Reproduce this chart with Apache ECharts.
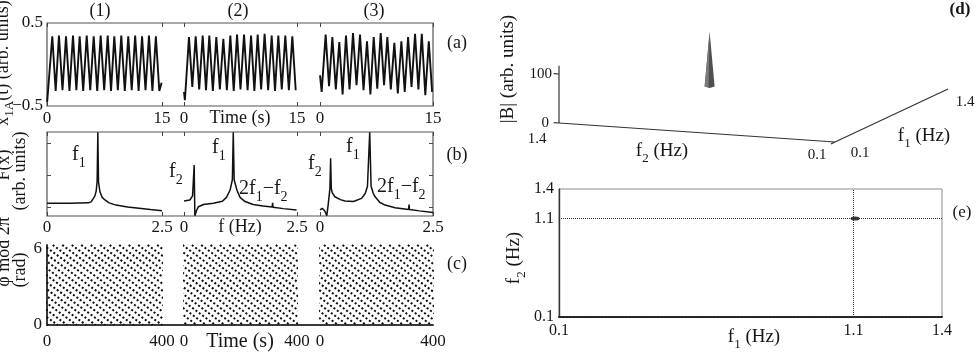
<!DOCTYPE html>
<html>
<head>
<meta charset="utf-8">
<title>Coupled oscillators figure</title>
<script src="https://cdn.jsdelivr.net/npm/echarts@6.0.0/dist/echarts.min.js"></script>
<style>
html,body{margin:0;padding:0;background:#ffffff;}
#chart{width:978px;height:356px;}
</style>
</head>
<body>
<div id="chart"></div>
<script>
// ================= DATA =================
const panelTitles = ['(1)', '(2)', '(3)'];
const panelLetters = ['(a)', '(b)', '(c)', '(d)', '(e)'];

// (a) x1A(t): time (s) / value of start points, peaks and troughs
const waveStart1 = [[0.02, -0.45]];
const wavePeakT1 = [0.69,1.56,2.48,3.39,4.26,5.18,6.09,7.0,7.92,8.78,9.69,10.6,11.5,12.4,13.3,14.2];
const wavePeakV1 = [0.34,0.35,0.34,0.35,0.34,0.35,0.34,0.35,0.35,0.34,0.35,0.34,0.35,0.34,0.35,0.34];
const waveTroughT1 = [1.13,2.02,2.93,3.83,4.72,5.64,6.55,7.46,8.35,9.24,10.15,11.05,11.95,12.85,13.75,14.65];
const waveTroughV1 = [-0.32,-0.31,-0.32,-0.31,-0.32,-0.31,-0.32,-0.31,-0.32,-0.31,-0.32,-0.31,-0.32,-0.31,-0.32,-0.32];
const waveEnd1 = [[14.95, -0.22]];

const waveStart2 = [[0.0, -0.33], [0.12, -0.43]];
const wavePeakT2 = [0.66,1.55,2.48,3.36,4.29,5.22,6.15,7.04,7.97,8.9,9.78,10.7,11.64,12.52,13.45,14.38];
const wavePeakV2 = [0.33,0.34,0.35,0.35,0.33,0.31,0.35,0.36,0.36,0.35,0.36,0.37,0.35,0.35,0.35,0.34];
const waveTroughT2 = [1.1,2.02,2.92,3.83,4.76,5.69,6.6,7.5,8.44,9.34,10.24,11.17,12.08,12.98,13.92,14.83];
const waveTroughV2 = [-0.27,-0.3,-0.31,-0.32,-0.3,-0.31,-0.32,-0.3,-0.31,-0.32,-0.3,-0.31,-0.32,-0.3,-0.31,-0.31];
const waveEnd2 = [];

const waveStart3 = [[0.0, -0.13], [0.22, -0.33]];
const wavePeakT3 = [0.75,1.64,2.56,3.45,4.38,5.31,6.24,7.13,8.06,8.94,9.87,10.8,11.69,12.62,13.51,14.44];
const wavePeakV3 = [0.36,0.33,0.27,0.35,0.38,0.36,0.28,0.33,0.38,0.33,0.26,0.28,0.33,0.37,0.37,0.28];
const waveTroughT3 = [1.2,2.1,3.0,3.92,4.85,5.78,6.69,7.6,8.5,9.4,10.33,11.25,12.15,13.06,13.98,14.88];
const waveTroughV3 = [-0.26,-0.3,-0.36,-0.3,-0.25,-0.31,-0.36,-0.29,-0.25,-0.3,-0.35,-0.33,-0.27,-0.3,-0.37,-0.33];
const waveEnd3 = [];

const timeTicksA = [0, 15];
const ampTicksA = [-0.5, 0.5];

// (b) spectra F(x1A): [f (Hz), arb. units]
const specB1 = [[0,0.115],[0.5,0.115],[0.9,0.13],[0.96,0.16],[1.0,0.22],[1.04,0.34],[1.07,0.5],[1.09,0.8],[1.105,2.33],[1.12,0.78],[1.15,0.48],[1.2,0.3],[1.26,0.22],[1.35,0.13],[1.5,0.06],[1.75,0.0],[2.0,-0.04],[2.25,-0.08],[2.5,-0.115]];
const specB2 = [[0,0.19],[0.13,0.22],[0.19,0.35],[0.225,1.31],[0.24,-0.27],[0.28,-0.1],[0.32,0.01],[0.43,0.08],[0.65,0.115],[0.85,0.18],[0.94,0.3],[1.02,0.53],[1.07,0.85],[1.09,2.33],[1.11,0.85],[1.17,0.53],[1.24,0.3],[1.35,0.17],[1.53,0.08],[1.75,0.03],[1.95,0.0],[1.96,0.13],[1.97,-0.01],[2.2,-0.05],[2.49,-0.09]];
const specB3 = [[0,-0.09],[0.05,-0.04],[0.11,-0.13],[0.15,-0.27],[0.18,0.06],[0.22,0.58],[0.235,1.52],[0.25,0.58],[0.27,0.45],[0.33,0.32],[0.45,0.23],[0.55,0.19],[0.74,0.17],[0.92,0.27],[1.0,0.42],[1.05,0.65],[1.1,2.33],[1.13,0.65],[1.18,0.42],[1.22,0.32],[1.32,0.15],[1.44,0.06],[1.66,-0.02],[1.96,-0.08],[1.97,0.08],[1.98,-0.08],[2.2,-0.12],[2.5,-0.17]];
const freqTicksB = [0, 2.5];
const ampTicksB = [0, 1, 2];

// (c) phase mod 2pi: dotted stripes, start time (s) at phase 2pi of each stripe
const TWO_PI = 6.2832;
const stripeSpanC = [380, 380, 380];
const stripeStartC1 = [-376,-343,-310,-277,-244,-211,-178,-145,-112,-79,-46,-13,20,53,86,119,152,185,218,251,284,317,350,383];
const stripeStartC2 = [-368,-335,-302,-269,-236,-203,-170,-137,-104,-71,-38,-5,28,61,94,127,160,193,226,259,292,325,358,391];
const stripeStartC3 = [-382,-349,-316,-283,-250,-217,-184,-151,-118,-85,-52,-19,14,47,80,113,146,179,212,245,278,311,344,377];
const timeTicksC = [0, 400];
const phaseTicksC = [0, 6];

// (d) bispectrum |B|(f1, f2)
const dRangeF1 = [0.1, 1.4];
const dRangeF2 = [0.1, 1.4];
const dRangeB = [0, 117];
const dTicksB = [0, 100];
const dPeak = [1.1, 1.1, 112];   // f1, f2, |B|

// (e) contour
const eRange = [0.1, 1.4];
const eTicks = [0.1, 1.1, 1.4];
const eGuides = [1.1, 1.1];       // f1, f2 dotted guide lines
const eBlob = [[1.105, 1.1]];

// ================= CHART =================
const FONT = "'Liberation Serif','DejaVu Serif','Times New Roman',serif";
const INK = '#161616';
const chart = echarts.init(document.getElementById('chart'), null, {renderer: 'canvas', width: 978, height: 356});

const grids = [], xAxes = [], yAxes = [], series = [], graphics = [];

function addGrid(l, t, w, h, extra) {
  grids.push(Object.assign({left: l, top: t, width: w, height: h, containLabel: false,
    outerBoundsMode: 'none', show: false}, extra || {}));
  return grids.length - 1;
}
function axis(gi, min, max, o) {
  o = o || {};
  return {
    type: 'value', gridIndex: gi, min: min, max: max, position: o.position, inverse: !!o.inverse,
    axisLine: o.line ? {show: true, onZero: false, lineStyle: o.line} : {show: false, onZero: false},
    axisTick: o.ticks ? {show: true, inside: true, length: 4, customValues: o.ticks,
      lineStyle: {color: '#444', width: 1}} : {show: false},
    axisLabel: o.labels ? {show: true, customValues: o.labels, margin: o.margin || 5,
      fontSize: o.fontSize || 17, fontFamily: FONT, color: INK,
      formatter: o.fmt || function (v) { return String(v); }} : {show: false},
    splitLine: {show: false}
  };
}
function addX(a) { xAxes.push(a); return xAxes.length - 1; }
function addY(a) { yAxes.push(a); return yAxes.length - 1; }
const minusFmt = function (v) { return v < 0 ? '\u2212' + Math.abs(v) : String(v); };

function buildWave(start, pt, pv, tt, tv, end) {
  const pts = start.slice();
  pt.forEach(function (t, i) { pts.push([t, pv[i]]); });
  tt.forEach(function (t, i) { pts.push([t, tv[i]]); });
  end.forEach(function (p) { pts.push(p); });
  pts.sort(function (a, b) { return a[0] - b[0]; });
  return pts;
}
const waves = [
  buildWave(waveStart1, wavePeakT1, wavePeakV1, waveTroughT1, waveTroughV1, waveEnd1),
  buildWave(waveStart2, wavePeakT2, wavePeakV2, waveTroughT2, waveTroughV2, waveEnd2),
  buildWave(waveStart3, wavePeakT3, wavePeakV3, waveTroughT3, waveTroughV3, waveEnd3)
];
const spectra = [specB1, specB2, specB3];
const stripeStarts = [stripeStartC1, stripeStartC2, stripeStartC3];

const subCols = [[47, 115], [184, 113], [320, 113]];
const A_TOP = 23, A_H = 83, B_TOP = 132, B_H = 84, C_TOP = 245, C_H = 80;
const BMIN = -0.28, BMAX = 2.34;

// ---- frames ----
(function () {
  const ga = addGrid(47, A_TOP, 386, A_H, {show: true, borderColor: '#555', borderWidth: 1.2, backgroundColor: 'transparent'});
  addX(axis(ga, 0, 1));
  addY(axis(ga, -0.5, 0.5, {labels: ampTicksA, fmt: minusFmt, margin: 4}));
  const gb = addGrid(47, B_TOP, 386, B_H, {show: true, borderColor: '#555', borderWidth: 1.2, backgroundColor: 'transparent'});
  addX(axis(gb, 0, 1));
  addY(axis(gb, BMIN, BMAX, {position: 'left', ticks: ampTicksB}));
  addY(axis(gb, BMIN, BMAX, {position: 'right', ticks: ampTicksB}));
  const gc = addGrid(47, C_TOP, 386, C_H);
  addX(axis(gc, 0, 1, {position: 'bottom', line: {color: '#3a3a3a', width: 2}}));
  addY(axis(gc, 0, TWO_PI));
})();

// ---- panel (a) ----
subCols.forEach(function (c, i) {
  const g = addGrid(c[0], A_TOP, c[1], A_H);
  const xi = addX(axis(g, 0, 15, {position: 'bottom', ticks: timeTicksA, labels: timeTicksA, margin: 4}));
  addX(axis(g, 0, 15, {position: 'top', ticks: timeTicksA}));
  const yi = addY(axis(g, -0.5, 0.5));
  series.push({type: 'line', xAxisIndex: xi, yAxisIndex: yi, data: waves[i], showSymbol: false, symbol: 'none',
    lineStyle: {color: '#111', width: 1.9}, silent: true, clip: true, z: 3});
});

// ---- panel (b) ----
subCols.forEach(function (c, i) {
  const g = addGrid(c[0], B_TOP, c[1], B_H);
  const xi = addX(axis(g, 0, 2.5, {position: 'bottom', ticks: freqTicksB, labels: freqTicksB, margin: 3}));
  addX(axis(g, 0, 2.5, {position: 'top', ticks: freqTicksB}));
  const yi = addY(axis(g, BMIN, BMAX));
  series.push({type: 'line', xAxisIndex: xi, yAxisIndex: yi, data: spectra[i], showSymbol: false, symbol: 'none',
    lineStyle: {color: '#111', width: 1.5}, silent: true, clip: true, z: 3});
});

// ---- panel (c) ----
subCols.forEach(function (c, i) {
  const g = addGrid(c[0], C_TOP, c[1], C_H);
  const xi = addX(axis(g, 0, 400, {position: 'bottom', labels: timeTicksC, margin: 8}));
  const yi = addY(i === 0 ? axis(g, 0, TWO_PI, {line: {color: '#3a3a3a', width: 2}, labels: phaseTicksC, margin: 5})
                          : axis(g, 0, TWO_PI));
  const span = stripeSpanC[i];
  series.push({type: 'lines', coordinateSystem: 'cartesian2d', xAxisIndex: xi, yAxisIndex: yi,
    data: stripeStarts[i].map(function (t0) { return {coords: [[t0, TWO_PI], [t0 + span, 0]]}; }),
    lineStyle: {color: '#0d0d0d', width: 2.0, type: [2.0, 2.2], opacity: 1, curveness: 0},
    silent: true, clip: true, z: 3});
});

// ---- panel (d): oblique 3-D view, projected through a hidden cartesian ----
(function () {
  const g = addGrid(480, 0, 498, 180);
  const xi = addX(axis(g, 0, 498));
  const yi = addY(axis(g, 0, 180, {inverse: true}));
  series.push({
    type: 'custom', xAxisIndex: xi, yAxisIndex: yi, data: [0], silent: true, z: 4,
    renderItem: function (params, api) {
      const P = function (f1, f2, b) {
        const a = (dRangeF2[1] - f2) / (dRangeF2[1] - dRangeF2[0]);
        const c = (f1 - dRangeF1[0]) / (dRangeF1[1] - dRangeF1[0]);
        return api.coord([79 + 276 * a + 113 * c, 123 + 19 * a - 53 * c - 49 * b / 100]);
      };
      const ln = function (p, q, w) {
        return {type: 'line', shape: {x1: p[0], y1: p[1], x2: q[0], y2: q[1]},
          style: {stroke: '#333', lineWidth: w || 1.2}};
      };
      const o = P(dRangeF1[0], dRangeF2[1], 0);
      const kids = [
        ln(o, P(dRangeF1[0], dRangeF2[1], dRangeB[1])),
        ln(o, P(dRangeF1[0], dRangeF2[0], 0)),
        ln(P(dRangeF1[0], dRangeF2[0], 0), P(dRangeF1[1], dRangeF2[0], 0)),
        ln(P(dRangeF1[0], dRangeF2[0], 0), P(dRangeF1[0] - 0.045, dRangeF2[0], 0))
      ];
      dTicksB.forEach(function (b) {
        kids.push(ln(P(dRangeF1[0], dRangeF2[1], b), P(dRangeF1[0], dRangeF2[1] + 0.025, b)));
      });
      const apex = P(dPeak[0], dPeak[1], dPeak[2]);
      const base = P(dPeak[0], dPeak[1], 0);
      kids.push({type: 'polygon', shape: {points: [[base[0] - 5, base[1]], apex, [base[0] + 5, base[1]], [base[0], base[1] + 1.5]]},
        style: {fill: '#4f4f4f'}});
      kids.push({type: 'polygon', shape: {points: [[base[0] - 5, base[1]], apex, [base[0] - 1, base[1] + 1]]},
        style: {fill: '#7a7a7a'}});
      return {type: 'group', children: kids};
    }
  });
})();

// ---- panel (e) ----
(function () {
  const g = addGrid(559, 189, 383, 128, {show: true, borderColor: '#8a8a8a', borderWidth: 1, backgroundColor: 'transparent'});
  const fmt = function (v) { return v.toFixed(1); };
  const xi = addX(axis(g, eRange[0], eRange[1], {position: 'bottom', labels: eTicks, fmt: fmt, margin: 6, fontSize: 16,
    line: {color: '#222', width: 2, type: [2, 1.5]}}));
  const yi = addY(axis(g, eRange[0], eRange[1], {position: 'left', labels: eTicks, fmt: fmt, margin: 5, fontSize: 16,
    line: {color: '#333', width: 1.4}}));
  series.push({type: 'scatter', xAxisIndex: xi, yAxisIndex: yi, data: eBlob, symbol: 'circle', symbolSize: [9, 4],
    itemStyle: {color: '#111'}, silent: true, z: 5,
    markLine: {silent: true, symbol: ['none', 'none'], animation: false, label: {show: false},
      lineStyle: {type: 'dotted', color: '#333', width: 1},
      data: [{xAxis: eGuides[0]}, {yAxis: eGuides[1]}]}});
})();

// ================= TEXT =================
function G(x, y, style, extra) {
  return Object.assign({type: 'text', x: x, y: y, silent: true, z: 100,
    style: Object.assign({fill: INK, fontFamily: FONT, align: 'center', verticalAlign: 'middle'}, style)}, extra || {});
}
// main text + subscripts; with verticalAlign 'middle' the main text is centred on the anchor
function rich(parts, size) {
  const sub = Math.round(size * 0.7);
  const drop = Math.round(size * 0.8);
  return {
    text: parts.map(function (p) { return '{' + (p[1] ? 's' : 'n') + '|' + p[0] + '}'; }).join(''),
    rich: {
      n: {fontSize: size, lineHeight: size, fontFamily: FONT, fill: INK},
      s: {fontSize: sub, lineHeight: sub, padding: [drop, 0, 0, 0], fontFamily: FONT, fill: INK}
    }
  };
}
const ROT = Math.PI / 2;

[100, 238, 374].forEach(function (x, i) { graphics.push(G(x, 11, {text: panelTitles[i], fontSize: 18})); });
graphics.push(G(457, 43, {text: panelLetters[0], fontSize: 18}));
graphics.push(G(457, 155, {text: panelLetters[1], fontSize: 18}));
graphics.push(G(457, 264, {text: panelLetters[2], fontSize: 18}));
graphics.push(G(240, 118, {text: 'Time (s)', fontSize: 18}));
graphics.push(G(240, 227, {text: 'f (Hz)', fontSize: 18}));
graphics.push(G(240, 342, {text: 'Time (s)', fontSize: 20}));

// left axis titles (partly cut by the page edge)
graphics.push(G(3, 63, rich([['x', 0], ['1A', 1], ['(t) (arb. units)', 0]], 18), {rotation: ROT}));
graphics.push(G(4, 165, {text: 'F(x)', fontSize: 18}, {rotation: ROT}));
graphics.push(G(20, 171, {text: '(arb. units)', fontSize: 18}, {rotation: ROT}));
graphics.push(G(4, 252, {text: '\u03C6 mod 2\u03C0', fontSize: 18}, {rotation: ROT}));
graphics.push(G(20, 270, {text: '(rad)', fontSize: 18}, {rotation: ROT}));

// peak labels in (b)
function peakLabel(x, y, parts) {
  graphics.push(G(x, y, Object.assign({align: 'left'}, rich(parts, 20))));
}
peakLabel(72, 155, [['f', 0], ['1', 1]]);
peakLabel(169, 172, [['f', 0], ['2', 1]]);
peakLabel(212, 148, [['f', 0], ['1', 1]]);
peakLabel(239, 189, [['2f', 0], ['1', 1], ['\u2212f', 0], ['2', 1]]);
peakLabel(308, 164, [['f', 0], ['2', 1]]);
peakLabel(346, 147, [['f', 0], ['1', 1]]);
peakLabel(377, 187, [['2f', 0], ['1', 1], ['\u2212f', 0], ['2', 1]]);

// (d) labels
graphics.push(G(960, 10, {text: panelLetters[3], fontSize: 17, fontWeight: 'bold'}));
graphics.push(G(552, 74, {text: String(dTicksB[1]), fontSize: 15, align: 'right'}));
graphics.push(G(549, 123, {text: String(dTicksB[0]), fontSize: 15, align: 'right'}));
graphics.push(G(537, 139, {text: dRangeF2[1].toFixed(1), fontSize: 15}));
graphics.push(G(817, 155, {text: dRangeF2[0].toFixed(1), fontSize: 15}));
graphics.push(G(860, 153, {text: dRangeF1[0].toFixed(1), fontSize: 15}));
graphics.push(G(965, 102, {text: dRangeF1[1].toFixed(1), fontSize: 15}));
graphics.push(G(662, 151, rich([['f', 0], ['2', 1], [' (Hz)', 0]], 19)));
graphics.push(G(924, 136, rich([['f', 0], ['1', 1], [' (Hz)', 0]], 19)));
graphics.push(G(508, 69, {text: '|B| (arb. units)', fontSize: 19}, {rotation: ROT}));

// (e) labels
graphics.push(G(962, 213, {text: panelLetters[4], fontSize: 17}));
graphics.push(G(754, 337, rich([['f', 0], ['1', 1], [' (Hz)', 0]], 19)));
graphics.push(G(514, 258, rich([['f', 0], ['2', 1], [' (Hz)', 0]], 19), {rotation: ROT}));

chart.setOption({
  animation: false,
  backgroundColor: '#ffffff',
  textStyle: {fontFamily: FONT},
  grid: grids,
  xAxis: xAxes,
  yAxis: yAxes,
  series: series,
  graphic: {elements: graphics}
});
</script>
</body>
</html>
